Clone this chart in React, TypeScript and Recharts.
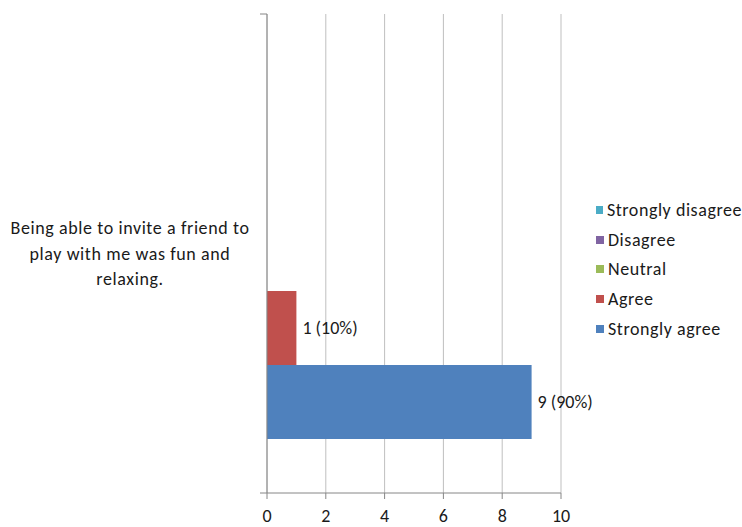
import React from 'react';
import { BarChart, Bar, XAxis, YAxis, CartesianGrid, Legend, LabelList } from 'recharts';

// Survey statement and response counts
const statements = ['Being able to invite a friend to play with me was fun and relaxing.'];
const responseNames = ['Strongly disagree', 'Disagree', 'Neutral', 'Agree', 'Strongly agree'];
const responseKeys = ['sd', 'd', 'n', 'a', 'sa'];
const responseColors = ['#4BACC6', '#8064A2', '#9BBB59', '#C0504D', '#4F81BD'];
const stronglyDisagree = [0];
const disagree = [0];
const neutral = [0];
const agree = [1];
const stronglyAgree = [9];
const xTicks = [0, 2, 4, 6, 8, 10];

const seriesValues = [stronglyDisagree, disagree, neutral, agree, stronglyAgree];

const data = statements.map((q, i) => {
  const row: Record<string, string | number> = { q };
  let total = 0;
  seriesValues.forEach((vals, s) => {
    row[responseKeys[s]] = vals[i];
    total += vals[i];
  });
  row.total = total;
  return row;
});

const FONT = "Carlito, Calibri, 'Liberation Sans', Arial, sans-serif";
const AXIS = '#868686';
const INK = '#1a1a1a';

function wrapWords(text: string, maxChars: number): string[] {
  const lines: string[] = [];
  let cur = '';
  for (const w of text.split(' ')) {
    const next = cur ? cur + ' ' + w : w;
    if (next.length > maxChars && cur) {
      lines.push(cur);
      cur = w;
    } else {
      cur = next;
    }
  }
  if (cur) lines.push(cur);
  return lines;
}

const CategoryTick = (props: any) => {
  const { y, payload, height } = props;
  const lines = wrapWords(String(payload.value), 32);
  const lh = 25.5;
  const start = -((lines.length - 1) * lh) / 2;
  const half = (height ?? 479) / 2;
  return (
    <g>
      <line x1={260} x2={267} y1={y - half} y2={y - half} stroke={AXIS} />
      <line x1={260} x2={267} y1={y + half} y2={y + half} stroke={AXIS} />
      <text x={130} y={y} textAnchor="middle" fontFamily={FONT} fontSize={18} letterSpacing={0.6} fill={INK}>
        {lines.map((l, i) => (
          <tspan key={i} x={130} y={y + start + i * lh} dominantBaseline="central">
            {l}
          </tspan>
        ))}
      </text>
    </g>
  );
};

const LegendBox = () => (
  <div style={{ fontFamily: FONT, fontSize: 18, letterSpacing: 0.55, color: INK }}>
    {responseNames.map((name, i) => (
      <div key={name} style={{ display: 'flex', alignItems: 'center', height: 29.7, whiteSpace: 'nowrap' }}>
        <span style={{ display: 'inline-block', width: 8, height: 8, background: responseColors[i], marginRight: 4 }} />
        <span>{name}</span>
      </div>
    ))}
  </div>
);

const pct = (v: number, total: number) => `${v} (${Math.round((v / total) * 100)}%)`;

export default function App() {
  return (
    <div style={{ position: 'absolute', left: 0, top: 0, background: '#fff' }}>
      <BarChart
        width={742}
        height={527}
        data={data}
        layout="vertical"
        margin={{ top: 14, right: 181, bottom: 0, left: 0 }}
        barCategoryGap={55}
        barGap={0}
      >
        <CartesianGrid horizontal={false} stroke="#BFBFBF" />
        <XAxis
          type="number"
          domain={[0, 10]}
          ticks={xTicks}
          interval={0}
          height={34}
          tickSize={6}
          tickMargin={10}
          stroke={AXIS}
          tick={{ fill: INK, fontSize: 18, fontFamily: FONT }}
        />
        <YAxis
          type="category"
          dataKey="q"
          width={267}
          stroke={AXIS}
          tickLine={false}
          tick={<CategoryTick />}
        />
        <Legend
          layout="vertical"
          align="center"
          verticalAlign="middle"
          content={<LegendBox />}
          wrapperStyle={{ position: 'absolute', left: 596, top: 195, width: 146 }}
        />
        {responseKeys.map((key, s) => (
          <Bar key={key} dataKey={key} name={responseNames[s]} fill={responseColors[s]} isAnimationActive={false}>
            <LabelList
              dataKey={key}
              position="right"
              content={(p: any) => {
                const v = Number(p.value);
                if (!v) return null;
                const total = Number(data[p.index ?? 0].total);
                return (
                  <text
                    x={p.x + p.width + 6}
                    y={p.y + p.height / 2}
                    dominantBaseline="central"
                    fontSize={18}
                    fontFamily={FONT}
                    fill={INK}
                  >
                    {pct(v, total)}
                  </text>
                );
              }}
            />
          </Bar>
        ))}
      </BarChart>
    </div>
  );
}
